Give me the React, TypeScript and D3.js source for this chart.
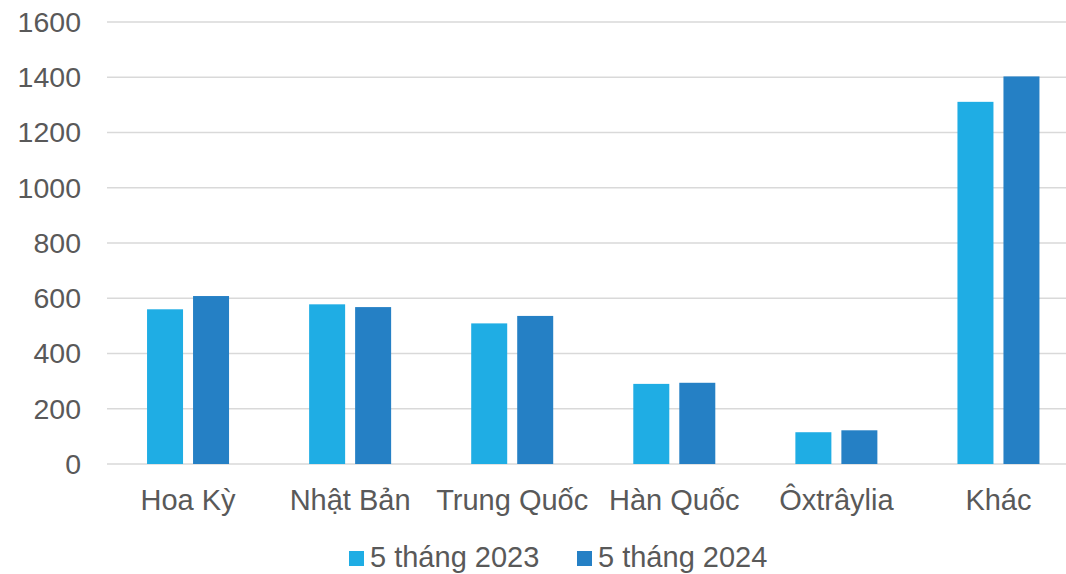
import React from "react";
import * as d3 from "d3";

const categories = ["Hoa Kỳ", "Nhật Bản", "Trung Quốc", "Hàn Quốc", "Ôxtrâylia", "Khác"];
const series2023 = [560, 578, 509, 290, 115, 1311];
const series2024 = [608, 568, 536, 294, 122, 1403];
const seriesNames = ["5 tháng 2023", "5 tháng 2024"];
const yTicks = [0, 200, 400, 600, 800, 1000, 1200, 1400, 1600];

const colors = ["#1FADE4", "#2580C5"];
const textColor = "#595959";
const font = "'Liberation Sans', Arial, sans-serif";

export default function App() {
  const W = 1066, H = 574;
  const x = d3.scaleBand().domain(categories).range([107, 1079.5]).paddingInner(0).paddingOuter(0);
  const y = d3.scaleLinear().domain([0, 1600]).range([464, 22]);
  const inner = d3.scaleBand().domain(seriesNames).range([-41, 41]).paddingInner(10 / 46);
  const data = [series2023, series2024];

  return (
    <svg width={W} height={H} style={{ position: "absolute", left: 0, top: 0, background: "#fff" }}>
      {yTicks.map((t) => (
        <g key={t}>
          <line x1={107} x2={W} y1={y(t)} y2={y(t)} stroke="#d9d9d9" strokeWidth={1.5} />
          <text x={81} y={y(t)} dy="0.35em" textAnchor="end" fontFamily={font} fontSize={28.5} fill={textColor}>
            {t}
          </text>
        </g>
      ))}
      {categories.map((c, i) => {
        const cx = (x(c) as number) + x.bandwidth() / 2;
        return (
          <g key={c}>
            {seriesNames.map((s, j) => (
              <rect
                key={s}
                x={cx + (inner(s) as number)}
                width={inner.bandwidth()}
                y={y(data[j][i])}
                height={y(0) - y(data[j][i])}
                fill={colors[j]}
              />
            ))}
            <text x={cx} y={510} textAnchor="middle" fontFamily={font} fontSize={29} fill={textColor}>
              {c}
            </text>
          </g>
        );
      })}
      {seriesNames.map((s, j) => {
        const lx = [349, 577][j];
        return (
          <g key={s}>
            <rect x={lx} y={551} width={15} height={15} fill={colors[j]} />
            <text x={lx + 21} y={567} fontFamily={font} fontSize={29} fill={textColor}>
              {s}
            </text>
          </g>
        );
      })}
    </svg>
  );
}
